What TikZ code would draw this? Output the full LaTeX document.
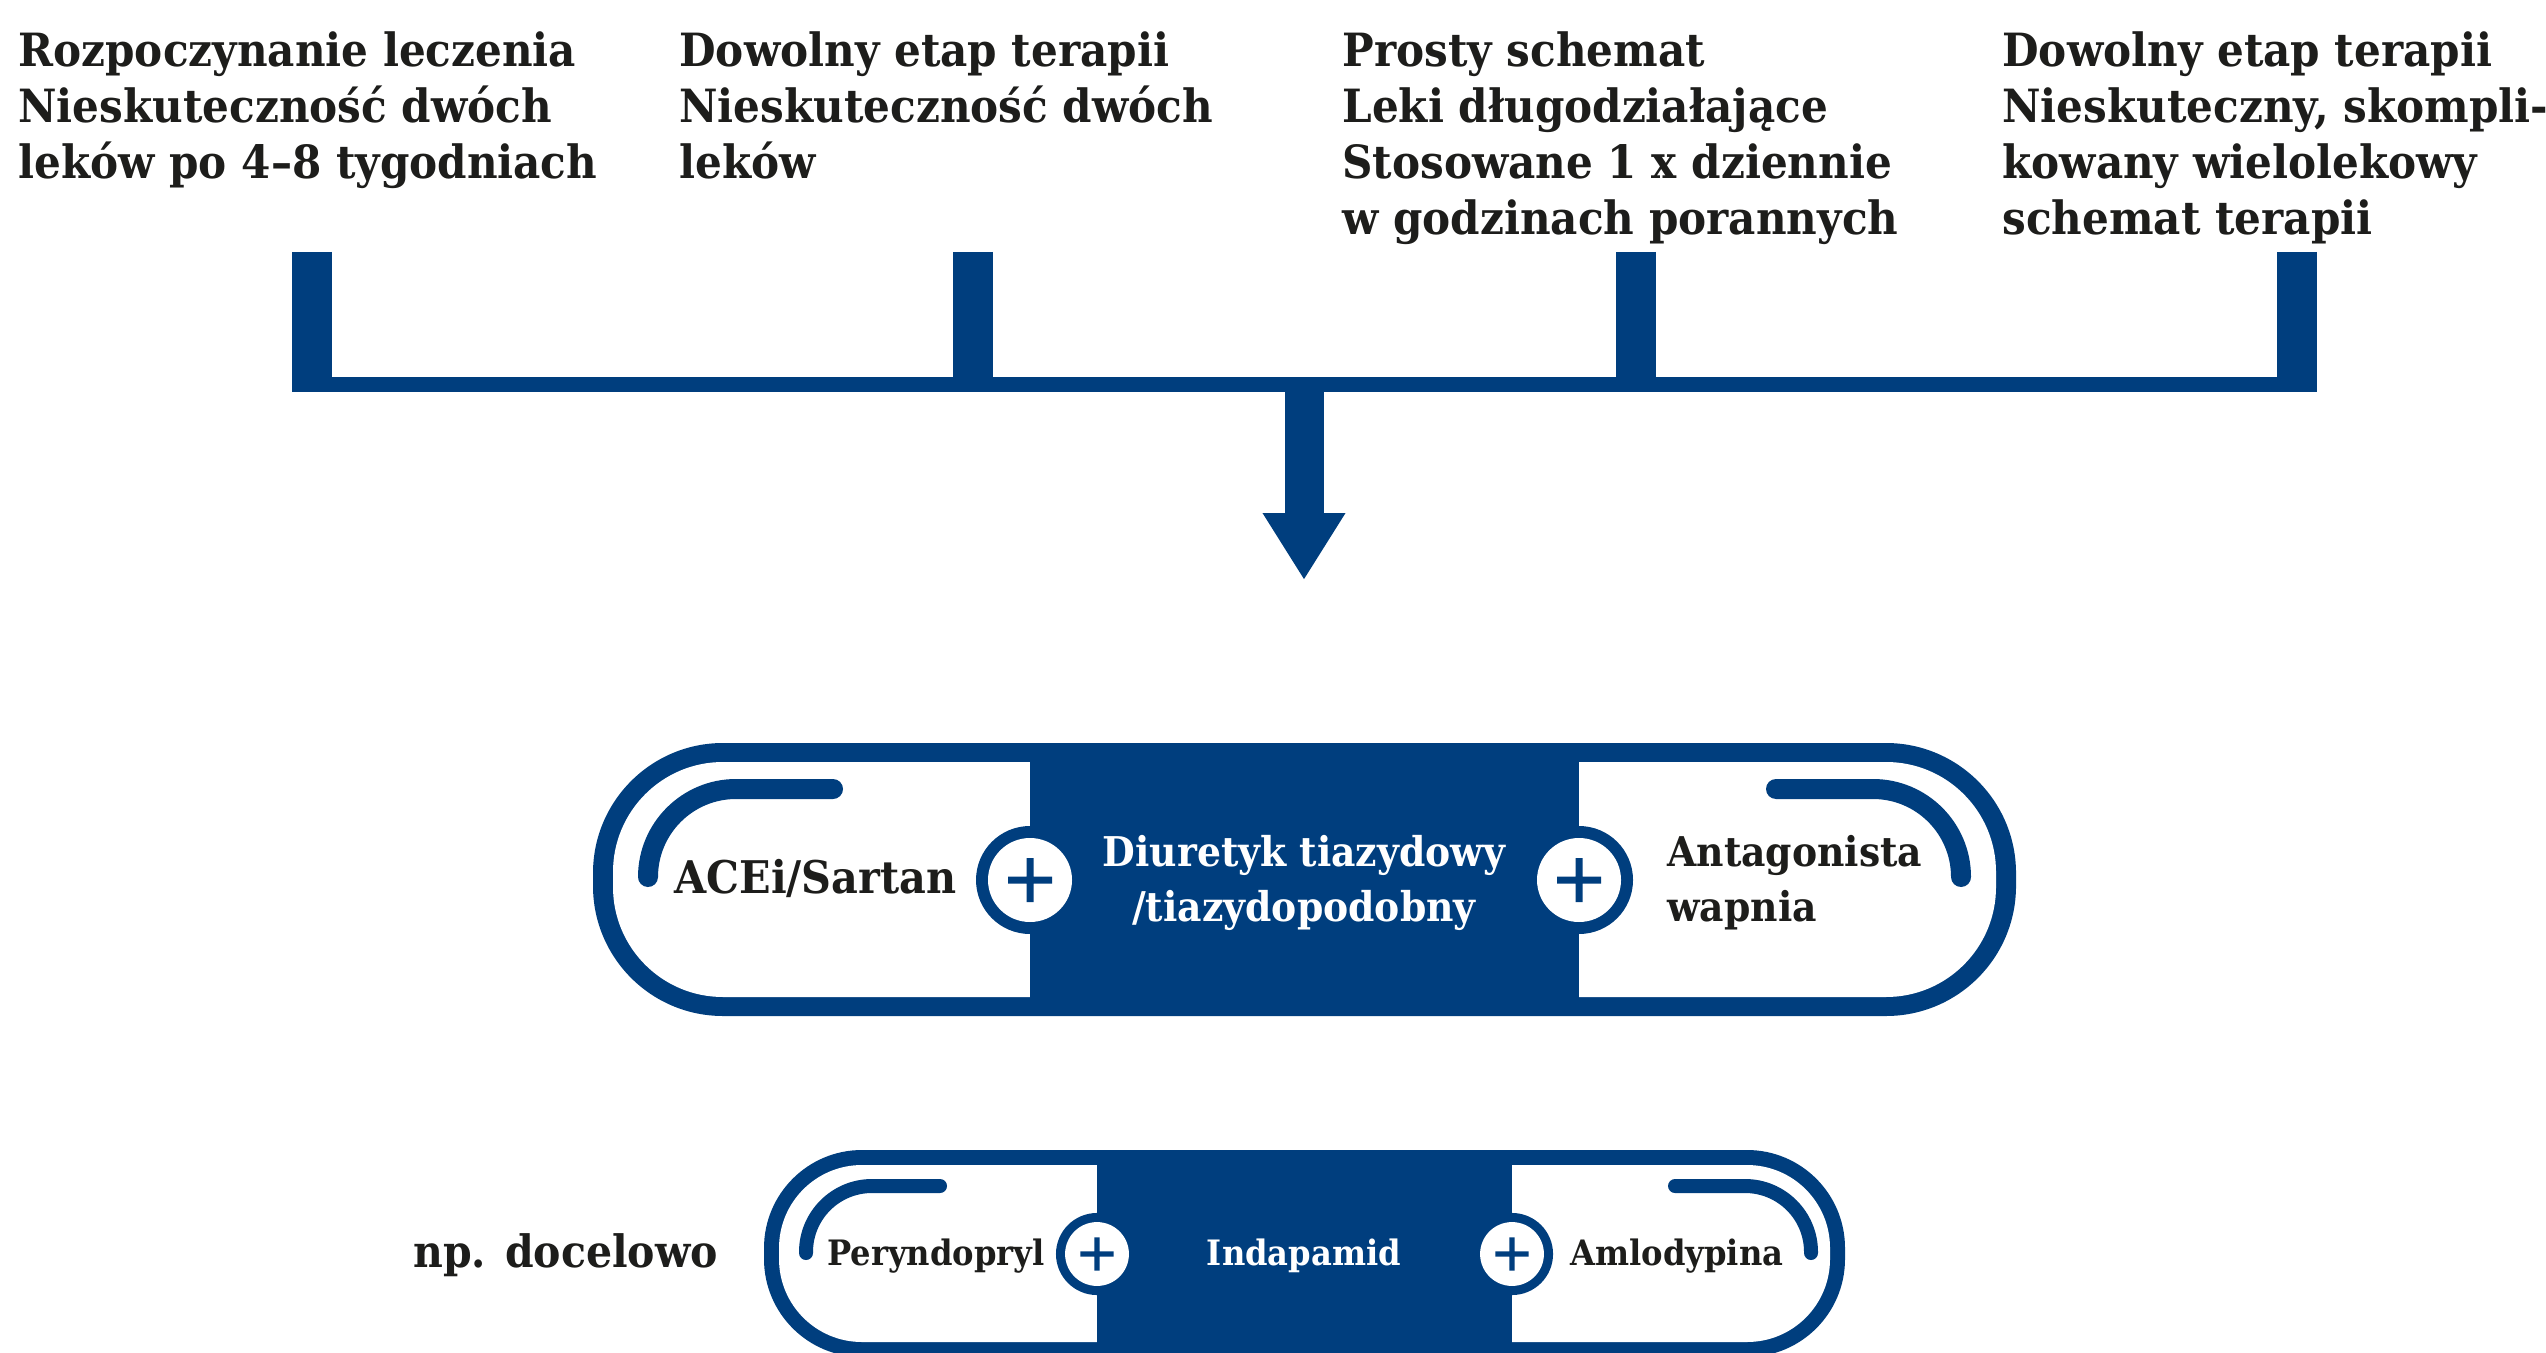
\documentclass[tikz,border=0pt]{standalone}
\usepackage{fontspec}
\setmainfont{DejaVu Serif}[FakeStretch=0.92]
\usetikzlibrary{arrows.meta}
\definecolor{navy}{HTML}{003E7E}
\definecolor{ink}{HTML}{1D1D1B}
\tikzset{
    plus/.pic={
        \fill[navy] (0,0) circle[radius=54];
        \fill[white] (0,0) circle[radius=42];
        \fill[navy] (-22,-3.5) rectangle (22,3.5) (-3.5,-22) rectangle (3.5,22);
    }
}

\begin{document}
\begin{tikzpicture}[x = 0.5pt, y = -0.5pt,
    stage/.style = {anchor=base west, align=left, inner sep=0pt, text=ink, font=\fontsize{22.9}{28}\selectfont\bfseries},
    stub/.style = {draw=navy, line width=20pt},
    rail/.style = {draw=navy, line width=7.5pt},
    bigdrug/.style = {inner sep=0pt, font=\fontsize{20.5}{27.5}\selectfont\bfseries},
    smalldrug/.style = {inner sep=0pt, font=\fontsize{17.5}{20}\selectfont\bfseries},
    hook/.style = {draw=navy, line cap=round}]
    \useasboundingbox (0,0) rectangle (2546,1353);
    \clip (0,0) rectangle (2546,1353);

    % base anchor sits on the last line
    \node[stage] (c1) at (18,179) {Rozpoczynanie leczenia\\Nieskuteczność dwóch\\leków po 4--8 tygodniach};
    \node[stage] (c2) at (679,179) {Dowolny etap terapii\\Nieskuteczność dwóch\\leków};
    \node[stage] (c3) at (1342,235) {Prosty schemat\\Leki długodziałające\\Stosowane 1 x dziennie\\w godzinach porannych};
    \node[stage] (c4) at (2002,235) {Dowolny etap terapii\\Nieskuteczny, skompli-\\kowany wielolekowy\\schemat terapii};

    \coordinate (s1) at (312,252);
    \coordinate (s2) at (973,252);
    \coordinate (s3) at (1636,252);
    \coordinate (s4) at (2297,252);
    \coordinate (rl) at (292,384.5);
    \coordinate (rr) at (2317,384.5);
    \coordinate (hub) at (1304,384.5);
    \coordinate (tip) at (1304,580);
    \draw[rail] (rl) -- (rr);
    \draw[stub] (s1) -- (s1 |- rr);
    \draw[stub] (s2) -- (s2 |- rr);
    \draw[stub] (s3) -- (s3 |- rr);
    \draw[stub] (s4) -- (s4 |- rr);
    \draw[navy, line width=19.5pt, -{Triangle[width=39pt, length=33.5pt]}] (hub) -- (tip);

    % combination pill
    \fill[navy, rounded corners=65pt] (593,743) rectangle (2016,1016);
    \fill[white, rounded corners=55pt] (613,762) rectangle (1996,997);
    \fill[navy] (1030,743) rectangle (1579,1016);
    \draw[hook, line width=10pt, rounded corners=44pt] (833,789) -- (648,789) -- (648,877);
    \draw[hook, line width=10pt, rounded corners=44pt] (1776,789) -- (1961,789) -- (1961,877);
    \pic at (1030,880) {plus};
    \pic at (1579,880) {plus};
    \node[bigdrug, anchor=base west, text=ink, font=\fontsize{22.5}{27.5}\selectfont\bfseries] (acei) at (674,893) {ACEi/Sartan};
    \node[bigdrug, align=center, text=white] (diur) at (1304,883) {Diuretyk tiazydowy\\/tiazydopodobny};
    \node[bigdrug, align=left, anchor=west, text=ink] (ca) at (1667,883) {Antagonista\\wapnia};

    % single pill example
    \node[anchor=base west, inner sep=0pt, text=ink, font=\fontsize{22.3}{24}\selectfont\bfseries] (np) at (413,1267) {np. docelowo};
    \fill[navy, rounded corners=49pt] (764,1150) rectangle (1845,1357);
    \fill[white, rounded corners=41.5pt] (779,1165) rectangle (1830,1342);
    \fill[navy] (1097,1150) rectangle (1512,1357);
    \draw[hook, line width=7pt, rounded corners=33pt] (940,1186) -- (806,1186) -- (806,1253);
    \draw[hook, line width=7pt, rounded corners=33pt] (1675,1186) -- (1811,1186) -- (1811,1253);
    \pic[scale=0.76] at (1097,1254) {plus};
    \pic[scale=0.76] at (1512,1254) {plus};
    \node[smalldrug, anchor=base west, text=ink] (per) at (827,1265) {Peryndopryl};
    \node[smalldrug, anchor=base, text=white] (ind) at (1304,1265) {Indapamid};
    \node[smalldrug, anchor=base west, text=ink] (aml) at (1570,1265) {Amlodypina};
\end{tikzpicture}
\end{document}
